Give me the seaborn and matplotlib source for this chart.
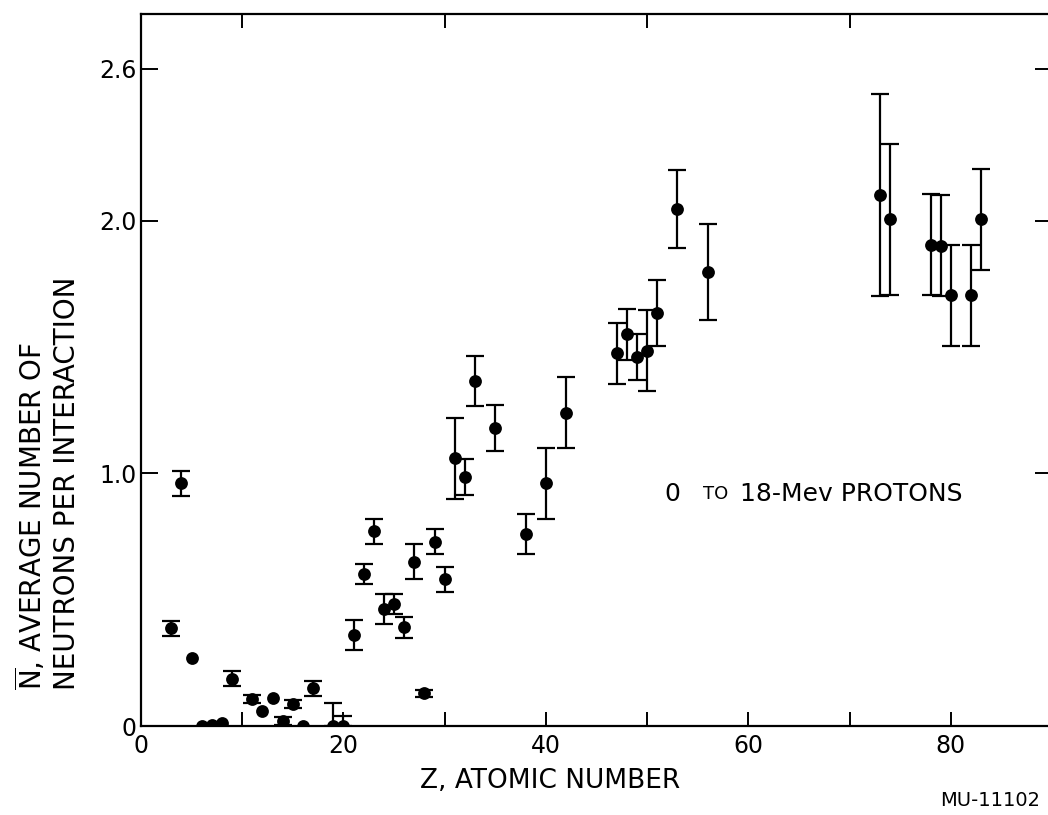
import matplotlib
matplotlib.use("Agg")
import matplotlib.pyplot as plt
import seaborn as sns
import numpy as np
import pandas as pd

# ---- data ----
Z = [3, 4, 5, 6, 7, 8, 9, 11, 12, 13, 14, 15, 16, 17, 19, 20,
     21, 22, 23, 24, 25, 26, 27, 28, 29, 30, 31, 32, 33, 35, 38, 40, 42,
     47, 48, 49, 50, 51, 53, 56, 73, 74, 78, 79, 80, 82, 83]
N = [0.387, 0.96, 0.268, 0.0, 0.005, 0.011, 0.187, 0.107, 0.06, 0.11, 0.02, 0.087, 0.0, 0.149, 0.0, 0.0,
     0.36, 0.60, 0.77, 0.463, 0.482, 0.39, 0.65, 0.129, 0.73, 0.58, 1.06, 0.985, 1.365, 1.18, 0.76, 0.96, 1.24,
     1.475, 1.55, 1.46, 1.485, 1.635, 2.045, 1.795, 2.10, 2.005, 1.905, 1.90, 1.705, 1.705, 2.005]
err_lo = [0.03, 0.05, 0.0, 0.0, 0.0, 0.0, 0.03, 0.015, 0.0, 0.0, 0.015, 0.015, 0.0, 0.03, 0.0, 0.0,
          0.06, 0.04, 0.05, 0.06, 0.04, 0.04, 0.07, 0.015, 0.05, 0.05, 0.16, 0.07, 0.10, 0.09, 0.08, 0.14, 0.14,
          0.12, 0.10, 0.09, 0.16, 0.13, 0.155, 0.19, 0.40, 0.30, 0.20, 0.20, 0.20, 0.20, 0.20]
err_hi = [0.03, 0.05, 0.0, 0.0, 0.0, 0.0, 0.03, 0.015, 0.0, 0.0, 0.015, 0.015, 0.0, 0.03, 0.09, 0.04,
          0.06, 0.04, 0.05, 0.06, 0.04, 0.04, 0.07, 0.015, 0.05, 0.05, 0.16, 0.07, 0.10, 0.09, 0.08, 0.14, 0.14,
          0.12, 0.10, 0.09, 0.16, 0.13, 0.155, 0.19, 0.40, 0.30, 0.20, 0.20, 0.20, 0.20, 0.20]

x_ticks = [0, 20, 40, 60, 80]
x_minor = [10, 30, 50, 70, 90]
y_ticks = [0, 1.0, 2.0, 2.6]
y_ticklabels = ["0", "1.0", "2.0", "2.6"]

df = pd.DataFrame({"Z": Z, "N": N, "lo": err_lo, "hi": err_hi})

sns.set_theme(style="white")
plt.rcParams["font.family"] = ["DejaVu Sans"]

W, H = 1048, 815
fig = plt.figure(figsize=(W / 100, H / 100), dpi=100)
ax = fig.add_axes([141 / W, 89 / H, 911 / W, 712 / H])

has_err = (df["lo"] > 0) | (df["hi"] > 0)
sub = df[has_err]
ax.errorbar(sub["Z"], sub["N"], yerr=[sub["lo"], sub["hi"]], fmt="none",
            ecolor="black", elinewidth=1.6, capsize=6.5, capthick=1.6, zorder=2)
sns.scatterplot(data=df, x="Z", y="N", ax=ax, color="black", s=85,
                edgecolor="black", linewidth=0, zorder=3, legend=False)

ax.set_xlim(0, 90)
ax.set_ylim(0, 2.8175)
ax.set_xticks(x_ticks)
ax.set_xticks(x_minor, minor=True)
ax.set_yticks(y_ticks)
ax.set_yticklabels(y_ticklabels)
ax.set_xlabel("")
ax.set_ylabel("")

for s in ax.spines.values():
    s.set_linewidth(1.6)
    s.set_color("black")

ax.tick_params(axis="both", which="both", direction="in", color="black",
               width=1.4, labelsize=17, labelcolor="black")
ax.tick_params(axis="x", which="major", length=10, pad=6, top=False, bottom=True)
ax.tick_params(axis="x", which="minor", length=10, top=True, bottom=True)
ax.tick_params(axis="y", which="major", length=12, pad=3, left=True, right=True)

fig.text(550 / W, 1 - 781 / H, "Z, ATOMIC NUMBER", ha="center", va="center",
         fontsize=19, color="black")
fig.text(47 / W, 1 - 690 / H,
         "$\\overline{\\mathrm{N}}$, AVERAGE NUMBER OF\nNEUTRONS PER INTERACTION",
         rotation=90, ha="center", va="bottom", multialignment="left",
         fontsize=20, color="black", linespacing=1.2)

ax.text(51.75, 0.918, "0", ha="left", va="center", fontsize=18, color="black")
ax.text(55.5, 0.918, "TO", ha="left", va="center", fontsize=13, color="black")
ax.text(59.2, 0.918, "18-Mev PROTONS", ha="left", va="center", fontsize=18, color="black")

fig.text(990 / W, 1 - 800 / H, "MU-11102", ha="center", va="center",
         fontsize=14, color="black")

fig.savefig("out.png", dpi=100)
